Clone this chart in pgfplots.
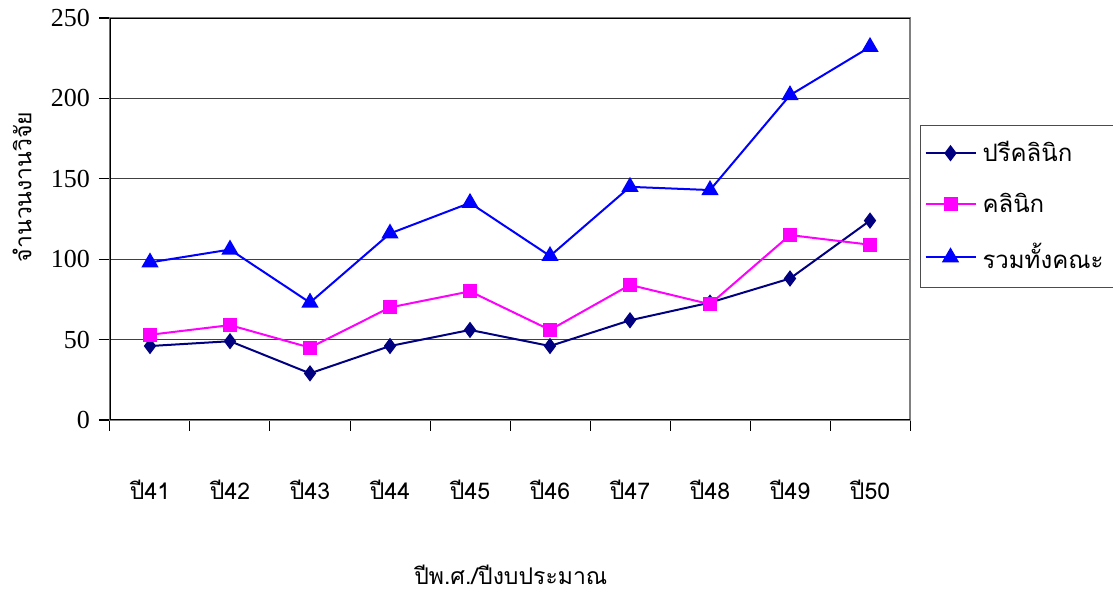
\documentclass[border=0pt]{standalone}
\usepackage{fontspec}
\setmainfont{Liberation Serif}
\newfontfamily\thaifont[Script=Thai]{Loma}
\usepackage{pgfplots}
\pgfplotsset{compat=1.18}
\definecolor{preclin}{RGB}{0,0,128}
\definecolor{clin}{RGB}{255,0,255}
\definecolor{total}{RGB}{0,0,255}

\begin{document}
\begin{tikzpicture}
\useasboundingbox (-55pt,-86.5pt) rectangle (501.5pt,210pt);
\begin{axis}[
    scale only axis,
    width=400pt, height=201pt,
    xmin=0.5, xmax=10.5,
    ymin=0, ymax=250,
    ytick={0,50,100,150,200,250},
    xtick={0.5,1.5,...,10.5},
    xticklabels={},
    extra x ticks={1,...,10},
    extra x tick labels={ปี41,ปี42,ปี43,ปี44,ปี45,ปี46,ปี47,ปี48,ปี49,ปี50},
    extra x tick style={major tick length=0pt, grid=none,
        xticklabel style={font=\thaifont\fontsize{11.5}{14}\selectfont, anchor=center, yshift=-35pt}},
    tick style={draw=black, line width=0.5pt},
    ytick style={draw=black, line width=0.6pt},
    tick align=outside,
    xtick pos=bottom, ytick pos=left,
    major tick length=5.5pt,
    ymajorgrids,
    grid style={black!75, line width=0.5pt},
    axis line style={black!50, line width=0.6pt},
    /pgf/number format/assume math mode=true,
    tick label style={font=\fontsize{13}{15}\selectfont},
    yticklabel style={xshift=-1pt},
    xlabel={ปีพ.ศ./ปีงบประมาณ},
    xlabel style={font=\thaifont\fontsize{11.5}{14}\selectfont, at={(axis description cs:0.501,-0.385)}, anchor=center},
    ylabel={จำนวนงานวิจัย},
    ylabel style={font=\thaifont\fontsize{11.5}{14}\selectfont, at={(axis description cs:-0.11,0.58)}, anchor=center},
    legend cell align=left,
    legend style={at={(axis description cs:1,1)}, anchor=north west, xshift=5pt, yshift=-53.5pt,
        draw=black!70, line width=0.5pt, font=\thaifont\fontsize{12}{14}\selectfont,
        row sep=10pt, inner xsep=2pt, inner ysep=6pt,
        nodes={inner xsep=3pt}},
    legend image code/.code={\draw[#1, mark=none] (0pt,0pt) -- (25pt,0pt);
        \draw[#1, only marks] plot coordinates {(12.5pt,0pt)};},
]
\addplot[color=preclin, line width=1pt, mark=diamond*, mark size=3.3pt, mark options={solid, fill=preclin}]
    coordinates {(1,46) (2,49) (3,29) (4,46) (5,56) (6,46) (7,62) (8,73) (9,88) (10,124)};
\addlegendentry{ปรีคลินิก}
\addplot[color=clin, line width=1pt, mark=square*, mark size=3pt, mark options={solid, fill=clin}]
    coordinates {(1,53) (2,59) (3,45) (4,70) (5,80) (6,56) (7,84) (8,72) (9,115) (10,109)};
\addlegendentry{คลินิก}
\addplot[color=total, line width=1pt, mark=triangle*, mark size=4pt, mark options={solid, fill=total}]
    coordinates {(1,98) (2,106) (3,73) (4,116) (5,135) (6,102) (7,145) (8,143) (9,202) (10,232)};
\addlegendentry{รวมทั้งคณะ}
\draw[black, line width=0.7pt] (rel axis cs:1,1) -- (rel axis cs:0,1) -- (rel axis cs:0,0) -- (rel axis cs:1,0);
\end{axis}
\end{tikzpicture}
\end{document}
